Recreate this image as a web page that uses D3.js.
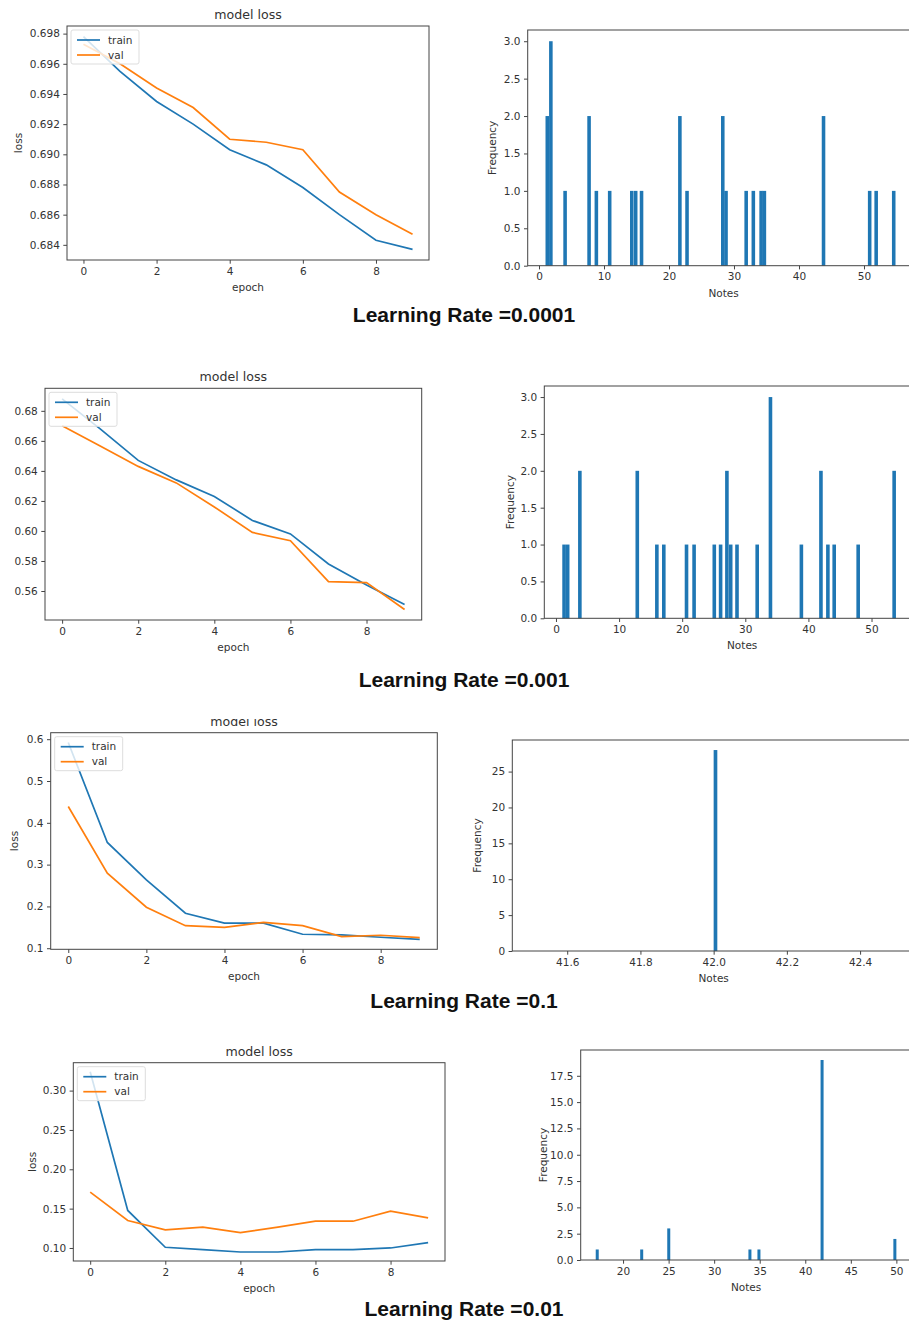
<!DOCTYPE html>
<html>
<head>
<meta charset="utf-8">
<script src="https://cdn.jsdelivr.net/npm/d3@7"></script>
<style>
  body { margin: 0; background: #fff; }
  svg { display: block; }
  text { fill: #333; }
</style>
</head>
<body>
<svg id="chart" width="909" height="1326"></svg>
<script>
// ---- data ----
const epochs = [0, 1, 2, 3, 4, 5, 6, 7, 8, 9];

// Learning rate 0.0001
const train1 = [0.6978, 0.6955, 0.6935, 0.6920, 0.6903, 0.6893, 0.6878, 0.6860, 0.6843, 0.6837];
const val1   = [0.6973, 0.6960, 0.6944, 0.6931, 0.6910, 0.6908, 0.6903, 0.6875, 0.6860, 0.6847];
// Learning rate 0.001
const train2 = [0.688, 0.668, 0.647, 0.634, 0.623, 0.607, 0.598, 0.578, 0.564, 0.551];
const val2   = [0.670, 0.6565, 0.643, 0.632, 0.616, 0.599, 0.5935, 0.5663, 0.5656, 0.5477];
// Learning rate 0.1
const train3 = [0.592, 0.353, 0.2635, 0.1837, 0.160, 0.160, 0.1335, 0.132, 0.1263, 0.121];
const val3   = [0.439, 0.2794, 0.198, 0.154, 0.150, 0.162, 0.154, 0.128, 0.131, 0.1255];
// Learning rate 0.01
const train4 = [0.324, 0.1477, 0.1009, 0.0979, 0.0949, 0.0949, 0.098, 0.098, 0.100, 0.1068];
const val4   = [0.171, 0.1349, 0.123, 0.1264, 0.1196, 0.1264, 0.134, 0.134, 0.1468, 0.1383];

// histogram bins: left edge of each bin and its count
const notes1 = [1.0, 1.55, 3.74, 7.43, 8.55, 10.6, 14.0, 14.6, 15.5, 21.4, 22.5, 28.0, 28.5, 31.6, 32.7, 33.9, 34.4, 43.5, 50.6, 51.6, 54.3];
const freq1  = [2, 3, 1, 2, 1, 1, 1, 1, 1, 2, 1, 2, 1, 1, 1, 1, 1, 2, 1, 1, 1];
const notes2 = [1.0, 1.57, 3.5, 12.6, 15.7, 16.8, 20.4, 21.6, 24.8, 25.8, 26.8, 27.4, 28.4, 31.6, 33.7, 38.6, 41.7, 42.8, 43.8, 47.6, 53.3];
const freq2  = [1, 1, 2, 2, 1, 1, 1, 1, 1, 1, 2, 1, 1, 1, 3, 1, 2, 1, 1, 1, 2];
const notes3 = [42.0];
const freq3  = [28];
const notes4 = [17.0, 21.88, 24.85, 33.76, 34.75, 41.68, 49.67];
const freq4  = [1, 1, 3, 1, 1, 19, 2];

// tick values
const epochTicks = [0, 2, 4, 6, 8];
const lossTicks1 = [0.684, 0.686, 0.688, 0.690, 0.692, 0.694, 0.696, 0.698];
const lossTicks2 = [0.56, 0.58, 0.60, 0.62, 0.64, 0.66, 0.68];
const lossTicks3 = [0.1, 0.2, 0.3, 0.4, 0.5, 0.6];
const lossTicks4 = [0.10, 0.15, 0.20, 0.25, 0.30];
const noteTicks1 = [0, 10, 20, 30, 40, 50];
const noteTicks3 = [41.6, 41.8, 42.0, 42.2, 42.4];
const noteTicks4 = [20, 25, 30, 35, 40, 45, 50];
const freqTicks1 = [0.0, 0.5, 1.0, 1.5, 2.0, 2.5, 3.0];
const freqTicks3 = [0, 5, 10, 15, 20, 25];
const freqTicks4 = [0.0, 2.5, 5.0, 7.5, 10.0, 12.5, 15.0, 17.5];

const captions = ['Learning Rate =0.0001', 'Learning Rate =0.001', 'Learning Rate =0.1', 'Learning Rate =0.01'];

const BLUE = '#1f77b4', ORANGE = '#ff7f0e';
const MPL_FONT = '"DejaVu Sans", sans-serif';
const svg = d3.select('#chart');

function styleAxis(g) {
  g.select('.domain').remove();
  g.selectAll('.tick line').attr('stroke', '#444');
  g.selectAll('.tick text').style('font-size', '10.5px')
    .style('font-family', MPL_FONT).style('fill', '#333');
}

function drawFrame(b) {
  svg.append('rect')
    .attr('x', b.left).attr('y', b.top)
    .attr('width', b.right - b.left).attr('height', b.bottom - b.top)
    .attr('fill', 'none').attr('stroke', '#444').attr('stroke-width', 1);
}

function mplText(sel, size) {
  return sel.style('font-family', MPL_FONT).style('font-size', size || '10.5px');
}

function axisLabels(b, xl, yl, ylX) {
  svg.append('text').text(xl)
    .attr('x', (b.left + b.right) / 2).attr('y', b.bottom + 31)
    .attr('text-anchor', 'middle').call(mplText);
  if (yl) {
    svg.append('text').text(yl)
      .attr('transform', `translate(${ylX},${(b.top + b.bottom) / 2}) rotate(-90)`)
      .attr('text-anchor', 'middle').attr('dy', '0.35em').call(mplText);
  }
}

function drawLoss(b, train, val, yTicks, yFmt, title, ylX, clipTop) {
  const all = [...train, ...val];
  const pad = (d3.max(all) - d3.min(all)) * 0.05;
  const x = d3.scaleLinear().domain([-0.45, 9.45]).range([b.left, b.right]);
  const y = d3.scaleLinear()
    .domain([d3.min(all) - pad, d3.max(all) + pad])
    .range([b.bottom, b.top]);

  const line = d3.line().x((d, i) => x(epochs[i])).y(d => y(d));
  svg.append('path').datum(train).attr('d', line)
    .attr('fill', 'none').attr('stroke', BLUE).attr('stroke-width', 1.7);
  svg.append('path').datum(val).attr('d', line)
    .attr('fill', 'none').attr('stroke', ORANGE).attr('stroke-width', 1.7);

  svg.append('g').attr('transform', `translate(0,${b.bottom})`)
    .call(d3.axisBottom(x).tickValues(epochTicks).tickFormat(d3.format('d')).tickSize(3.7).tickPadding(3.5))
    .call(styleAxis);
  svg.append('g').attr('transform', `translate(${b.left},0)`)
    .call(d3.axisLeft(y).tickValues(yTicks).tickFormat(d3.format(yFmt)).tickSize(3.7).tickPadding(3.5))
    .call(styleAxis);
  drawFrame(b);

  // legend
  const lg = svg.append('g').attr('transform', `translate(${b.left + 4},${b.top + 4})`);
  lg.append('rect').attr('width', 68).attr('height', 34).attr('rx', 2)
    .attr('fill', '#fff').attr('fill-opacity', 0.8).attr('stroke', '#ddd');
  [['train', BLUE], ['val', ORANGE]].forEach(([name, c], i) => {
    const yy = 10 + i * 15;
    lg.append('line').attr('x1', 6).attr('x2', 29).attr('y1', yy).attr('y2', yy)
      .attr('stroke', c).attr('stroke-width', 1.7);
    lg.append('text').text(name).attr('x', 37).attr('y', yy).attr('dy', '0.35em')
      .call(mplText);
  });

  // title (optionally clipped at the top, like the cropped screenshot)
  const t = svg.append('text').text(title)
    .attr('x', (b.left + b.right) / 2).attr('y', b.top - 7)
    .attr('text-anchor', 'middle').call(mplText, '12.6px');
  if (clipTop) {
    const id = 'clip' + Math.round(b.top);
    svg.append('clipPath').attr('id', id).append('rect')
      .attr('x', 0).attr('y', clipTop).attr('width', 909).attr('height', 40);
    t.attr('clip-path', `url(#${id})`);
  }
  axisLabels(b, 'epoch', ylX ? 'loss' : null, ylX);
}

function drawHist(b, xDom, notes, freq, binW, xTicks, xFmt, yTicks, yFmt, ylX) {
  const x = d3.scaleLinear().domain(xDom).range([b.left, b.right]);
  const y = d3.scaleLinear().domain([0, d3.max(freq) * 1.05]).range([b.bottom, b.top]);

  svg.append('g').selectAll('rect').data(notes).join('rect')
    .attr('x', d => x(d))
    .attr('width', d => x(d + binW) - x(d))
    .attr('y', (d, i) => y(freq[i]))
    .attr('height', (d, i) => y(0) - y(freq[i]))
    .attr('fill', BLUE);

  svg.append('g').attr('transform', `translate(0,${b.bottom})`)
    .call(d3.axisBottom(x).tickValues(xTicks).tickFormat(d3.format(xFmt)).tickSize(3.7).tickPadding(3.5))
    .call(styleAxis);
  svg.append('g').attr('transform', `translate(${b.left},0)`)
    .call(d3.axisLeft(y).tickValues(yTicks).tickFormat(d3.format(yFmt)).tickSize(3.7).tickPadding(3.5))
    .call(styleAxis);
  drawFrame(b);
  axisLabels(b, 'Notes', 'Frequency', ylX);
}

// row 1
drawLoss({left: 67, right: 429, top: 26, bottom: 260}, train1, val1, lossTicks1, '.3f', 'model loss', 18);
drawHist({left: 527.7, right: 919.5, top: 30, bottom: 265.7}, [-1.74, 58.54], notes1, freq1, 0.548,
  noteTicks1, 'd', freqTicks1, '.1f', 492);
// row 2
drawLoss({left: 45, right: 421.7, top: 388.3, bottom: 620}, train2, val2, lossTicks2, '.2f', 'model loss', null);
drawHist({left: 544.3, right: 940, top: 386, bottom: 618.3}, [-1.85, 60.85], notes2, freq2, 0.57,
  noteTicks1, 'd', freqTicks1, '.1f', 510);
// row 3
drawLoss({left: 50.7, right: 437.3, top: 732.7, bottom: 949.3}, train3, val3, lossTicks3, '.1f', 'model loss', 14, 719);
drawHist({left: 512.3, right: 915, top: 740, bottom: 951}, [41.45, 42.55], notes3, freq3, 0.01,
  noteTicks3, '.1f', freqTicks3, 'd', 477);
// row 4
drawLoss({left: 73.3, right: 445, top: 1062.7, bottom: 1261}, train4, val4, lossTicks4, '.2f', 'model loss', 32);
drawHist({left: 580.7, right: 911.4, top: 1050, bottom: 1260}, [15.35, 51.65], notes4, freq4, 0.33,
  noteTicks4, 'd', freqTicks4, '.1f', 543);

// captions
const capY = [321.7, 686.7, 1007.7, 1315.7];
captions.forEach((c, i) => {
  svg.append('text').text(c)
    .attr('x', 464).attr('y', capY[i])
    .attr('text-anchor', 'middle')
    .style('font-family', '"Liberation Sans", Arial, sans-serif')
    .style('font-weight', 'bold').style('font-size', '21px')
    .style('fill', '#111');
});
</script>
</body>
</html>
